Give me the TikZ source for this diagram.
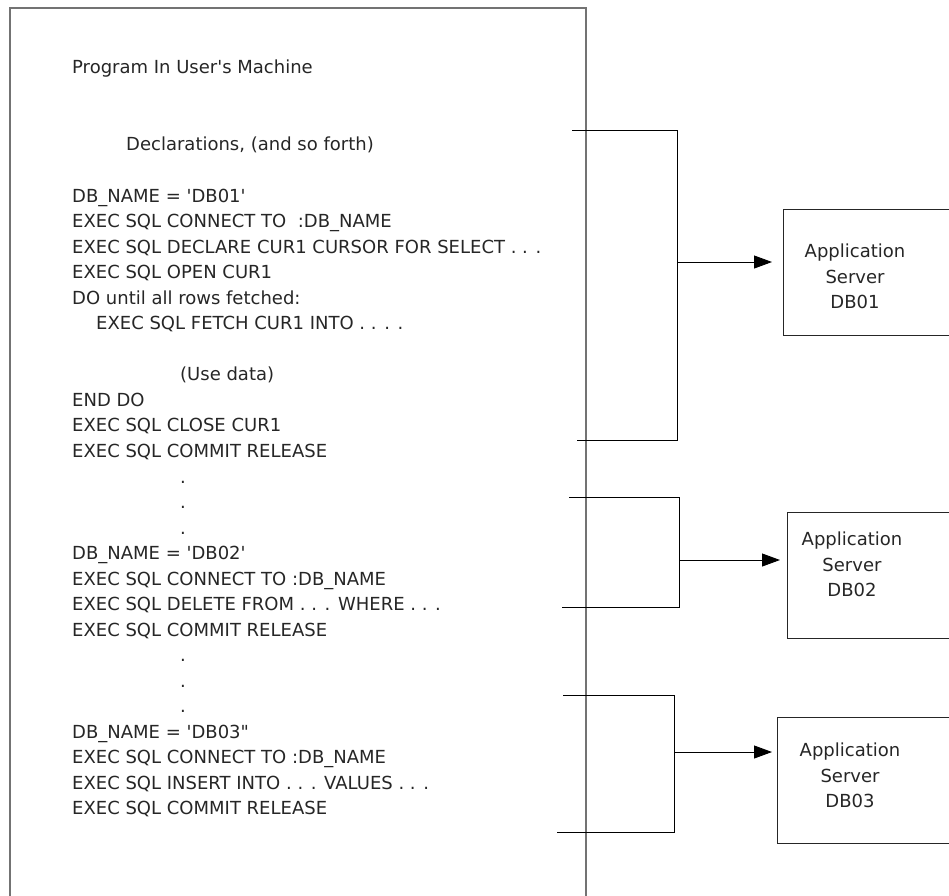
\documentclass[tikz,border=0pt]{standalone}
\usepackage{fontspec}
\setmainfont{DejaVu Sans}
\usepackage{xcolor}
\usepackage{tikz}
\usetikzlibrary{positioning, arrows.meta}

\begin{document}
\begin{tikzpicture}[x=1pt, y=-1pt,
    codeline/.style={anchor=base west, inner sep=0pt, text=black!85, font=\fontsize{18}{20}\selectfont},
    server/.style={draw=black!85, line width=1pt, anchor=north west, inner sep=0pt,
                   minimum width=172pt, minimum height=126pt},
    srvtext/.style={align=center, inner sep=0pt, text=black!85, font=\fontsize{18}{25.5}\selectfont},
    bracket/.style={black, line width=0.9pt},
    link/.style={black, line width=0.9pt, -{Triangle[length=18pt, width=13pt]}}]
    \useasboundingbox (0,0) rectangle (949,895);

    % Frame of the user's machine
    \draw[black!55, line width=1.6pt] (10,905) |- (586,8) -- (586,905);

    % Program text
    \node[codeline] (title) at (72,73) {Program In User\textquotesingle s Machine};
    \node[codeline] (decl) at (126,150) {Declarations, (and so forth)};

    \node[codeline] (name1) at (72,202) {DB\_NAME = \textquotesingle DB01\textquotesingle};
    \node[codeline] (conn1) at (72,227.5) {EXEC SQL CONNECT TO\ \ :DB\_NAME};
    \node[codeline] (cursor) at (72,253) {EXEC SQL DECLARE CUR1 CURSOR FOR SELECT . . .};
    \node[codeline] (open) at (72,278.5) {EXEC SQL OPEN CUR1};
    \node[codeline] (loop) at (72,304) {DO until all rows fetched:};
    \node[codeline] (fetch) at (96,329.5) {EXEC SQL FETCH CUR1 INTO . . . .};
    \node[codeline] (usedata) at (180,380.5) {(Use data)};
    \node[codeline] (enddo) at (72,406) {END DO};
    \node[codeline] (close) at (72,431.5) {EXEC SQL CLOSE CUR1};
    \node[codeline] (commit1) at (72,457) {EXEC SQL COMMIT RELEASE};
    \node[codeline] (dots1a) at (180,483) {.};
    \node[codeline] (dots1b) at (180,508) {.};
    \node[codeline] (dots1c) at (180,534) {.};

    \node[codeline] (name2) at (72,559.5) {DB\_NAME = \textquotesingle DB02\textquotesingle};
    \node[codeline] (conn2) at (72,585) {EXEC SQL CONNECT TO :DB\_NAME};
    \node[codeline] (delete) at (72,610.5) {EXEC SQL DELETE FROM . . . WHERE . . .};
    \node[codeline] (commit2) at (72,636) {EXEC SQL COMMIT RELEASE};
    \node[codeline] (dots2a) at (180,661.5) {.};
    \node[codeline] (dots2b) at (180,687) {.};
    \node[codeline] (dots2c) at (180,712.5) {.};

    \node[codeline] (name3) at (72,738) {DB\_NAME = \textquotesingle DB03\textquotedbl};
    \node[codeline] (conn3) at (72,763.5) {EXEC SQL CONNECT TO :DB\_NAME};
    \node[codeline] (insert) at (72,789) {EXEC SQL INSERT INTO . . . VALUES . . .};
    \node[codeline] (commit3) at (72,814.5) {EXEC SQL COMMIT RELEASE};

    % Application servers
    \node[server] (db01) at (783,209) {};
    \node[server] (db02) at (787,512) {};
    \node[server] (db03) at (777,717) {};
    \node[srvtext] (db01txt) at (855,276.5) {Application\\Server\\DB01};
    \node[srvtext] (db02txt) at (852,564.5) {Application\\Server\\DB02};
    \node[srvtext] (db03txt) at (850,775.5) {Application\\Server\\DB03};

    % Brackets
    \coordinate (b1top) at (572,130);
    \coordinate (b1bot) at (577,440);
    \coordinate (b1mid) at (677,262);
    \coordinate (b2top) at (569,497);
    \coordinate (b2bot) at (562,607);
    \coordinate (b2mid) at (679,560);
    \coordinate (b3top) at (563,695);
    \coordinate (b3bot) at (557,832);
    \coordinate (b3mid) at (674,752);
    \draw[bracket] (b1top) -| (b1mid) |- (b1bot);
    \draw[bracket] (b2top) -| (b2mid) |- (b2bot);
    \draw[bracket] (b3top) -| (b3mid) |- (b3bot);

    % Connections
    \draw[link, shorten >=11pt] (b1mid) -- (b1mid -| db01.west);
    \draw[link, shorten >=7pt] (b2mid) -- (b2mid -| db02.west);
    \draw[link, shorten >=5pt] (b3mid) -- (b3mid -| db03.west);
\end{tikzpicture}
\end{document}
